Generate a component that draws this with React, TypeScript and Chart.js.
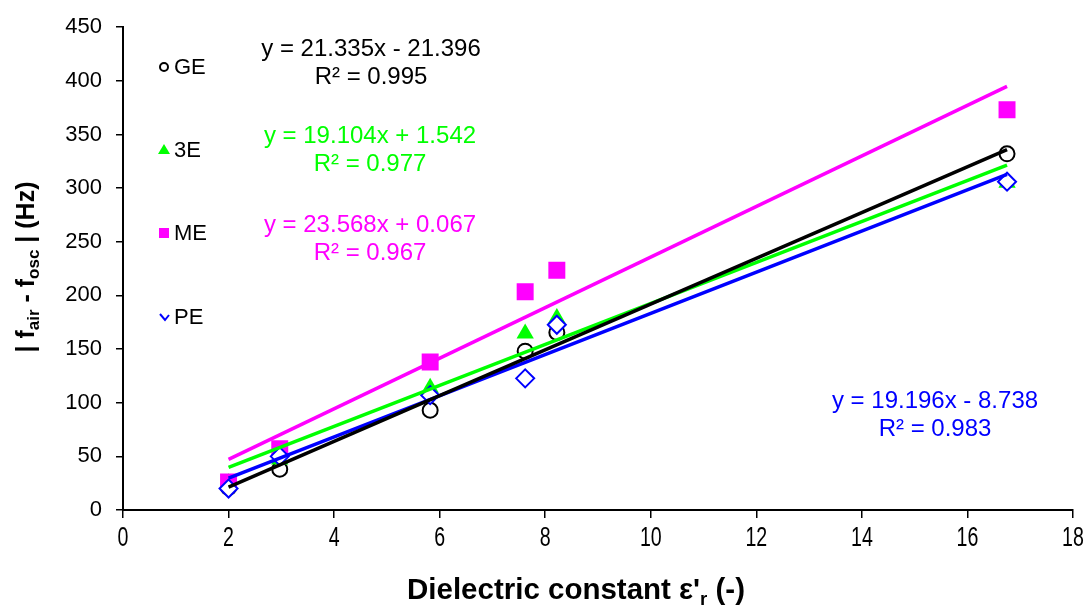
import React, { useEffect, useRef } from "react";
import { Chart, registerables } from "chart.js";

Chart.register(...registerables);

// ---- data ----
const xValues = [2, 2.97, 5.82, 7.62, 8.22, 16.75];
const seriesNames = ["GE", "3E", "ME", "PE"];
const geValues = [21, 38, 93, 148, 165.5, 332];
const e3Values = [25, 47, 114, 164.5, 179, 305];
const meValues = [26, 57, 138, 203.5, 223.5, 373];
const peValues = [20, 50, 107, 122.7, 172.7, 306];
const slopes = [21.335, 19.104, 23.568, 19.196];
const intercepts = [-21.396, 1.542, 0.067, -8.738];
const equationTexts = [
  "y = 21.335x - 21.396",
  "y = 19.104x + 1.542",
  "y = 23.568x + 0.067",
  "y = 19.196x - 8.738",
];
const r2Texts = ["R² = 0.995", "R² = 0.977", "R² = 0.967", "R² = 0.983"];
const xTickValues = [0, 2, 4, 6, 8, 10, 12, 14, 16, 18];
const yTickValues = [0, 50, 100, 150, 200, 250, 300, 350, 400, 450];

// ---- styles / layout ----
const colors = ["#000000", "#00FF00", "#FF00FF", "#0000FF"];
const FONT = "'Liberation Sans', Arial, sans-serif";
const eqPositions = [
  { x: 371, y: 49 },
  { x: 370, y: 136 },
  { x: 370, y: 225 },
  { x: 935, y: 401 },
];
const legendRows = [67, 150, 233, 317];

function trendPoints(i: number) {
  const x0 = xValues[0];
  const x1 = xValues[xValues.length - 1];
  return [
    { x: x0, y: slopes[i] * x0 + intercepts[i] },
    { x: x1, y: slopes[i] * x1 + intercepts[i] },
  ];
}

function pts(vals: number[]) {
  return xValues.map((x, i) => ({ x, y: vals[i] }));
}

const overlayPlugin = {
  id: "overlay",
  afterDraw(chart: any) {
    const ctx: CanvasRenderingContext2D = chart.ctx;
    ctx.save();
    // equations
    ctx.textAlign = "center";
    ctx.textBaseline = "middle";
    ctx.font = `24px ${FONT}`;
    eqPositions.forEach((p, i) => {
      ctx.fillStyle = colors[i];
      ctx.fillText(equationTexts[i], p.x, p.y);
      ctx.fillText(r2Texts[i], p.x, p.y + 28);
    });
    // legend
    ctx.textAlign = "left";
    ctx.font = `22px ${FONT}`;
    legendRows.forEach((y, i) => {
      const mx = 164;
      ctx.lineWidth = 2;
      if (i === 0) {
        ctx.strokeStyle = "#000";
        ctx.beginPath();
        ctx.arc(mx, y, 4, 0, Math.PI * 2);
        ctx.stroke();
      } else if (i === 1) {
        ctx.fillStyle = colors[1];
        ctx.beginPath();
        ctx.moveTo(mx, y - 6);
        ctx.lineTo(mx + 6, y + 4);
        ctx.lineTo(mx - 6, y + 4);
        ctx.closePath();
        ctx.fill();
      } else if (i === 2) {
        ctx.fillStyle = colors[2];
        ctx.fillRect(mx - 5, y - 5, 10, 10);
      } else {
        ctx.strokeStyle = colors[3];
        ctx.beginPath();
        ctx.moveTo(mx - 4, y - 3);
        ctx.lineTo(mx + 1, y + 3);
        ctx.lineTo(mx + 5, y - 2);
        ctx.stroke();
      }
      ctx.fillStyle = "#000";
      ctx.fillText(seriesNames[i], 174, y + 1);
    });
    // x tick labels (tall, narrow)
    const xs = chart.scales.x;
    ctx.font = `28px ${FONT}`;
    ctx.fillStyle = "#000";
    ctx.textAlign = "center";
    xTickValues.forEach((v) => {
      const px = xs.getPixelForValue(v);
      ctx.save();
      ctx.translate(px, 538);
      ctx.scale(0.7, 1);
      ctx.fillText(String(v), 0, 0);
      ctx.restore();
    });
    // x title
    ctx.save();
    ctx.font = `bold 30px ${FONT}`;
    const tMain = "Dielectric constant ε'";
    const tSub = "r";
    const tEnd = " (-)";
    const wMain = ctx.measureText(tMain).width;
    const wEnd = ctx.measureText(tEnd).width;
    ctx.font = `bold 19px ${FONT}`;
    const wSub = ctx.measureText(tSub).width;
    const total = wMain + wSub + wEnd;
    const sx = 338 / total;
    ctx.translate(576, 591);
    ctx.scale(sx, 1);
    ctx.textAlign = "left";
    let cx = -total / 2;
    ctx.font = `bold 30px ${FONT}`;
    ctx.fillText(tMain, cx, 0);
    cx += wMain;
    ctx.font = `bold 19px ${FONT}`;
    ctx.fillText(tSub, cx, 9);
    cx += wSub;
    ctx.font = `bold 30px ${FONT}`;
    ctx.fillText(tEnd, cx, 0);
    ctx.restore();
    // y title
    ctx.save();
    ctx.translate(27, 267);
    ctx.rotate(-Math.PI / 2);
    const parts: [string, boolean][] = [
      ["| f", false],
      ["air", true],
      [" - f", false],
      ["osc", true],
      [" | (Hz)", false],
    ];
    let tw = 0;
    parts.forEach(([t, sub]) => {
      ctx.font = sub ? `bold 17px ${FONT}` : `bold 25px ${FONT}`;
      tw += ctx.measureText(t).width;
    });
    let px = -tw / 2;
    ctx.textAlign = "left";
    ctx.fillStyle = "#000";
    parts.forEach(([t, sub]) => {
      ctx.font = sub ? `bold 17px ${FONT}` : `bold 25px ${FONT}`;
      ctx.fillText(t, px, sub ? 7 : 0);
      px += ctx.measureText(t).width;
    });
    ctx.restore();
    ctx.restore();
  },
};

export default function App() {
  const ref = useRef<HTMLCanvasElement | null>(null);
  useEffect(() => {
    if (!ref.current) return;
    Chart.defaults.font.family = FONT;
    const scatter = [geValues, e3Values, meValues, peValues];
    const styles = ["circle", "triangle", "rect", "rectRot"];
    const radii = [7.5, 10, 12, 9];
    const datasets: any[] = [];
    scatter.forEach((vals, i) => {
      datasets.push({
        type: "scatter",
        label: seriesNames[i],
        data: pts(vals),
        pointStyle: styles[i],
        pointRadius: radii[i],
        pointBackgroundColor: i === 0 || i === 3 ? "#FFFFFF" : colors[i],
        pointBorderColor: colors[i],
        pointBorderWidth: i === 0 || i === 3 ? 2 : 0,
        showLine: false,
        order: 4 - i + 1,
      });
    });
    [0, 3, 1, 2].forEach((i) => {
      datasets.push({
        type: "line",
        label: seriesNames[i] + " fit",
        data: trendPoints(i),
        borderColor: colors[i],
        borderWidth: 3.5,
        pointRadius: 0,
        fill: false,
        order: 0,
      });
    });
    const chart = new Chart(ref.current, {
      type: "scatter",
      data: { datasets },
      options: {
        animation: false,
        responsive: false,
        events: [],
        layout: { padding: { left: 0, right: 19, top: 15, bottom: 0 } },
        plugins: { legend: { display: false }, tooltip: { enabled: false } },
        scales: {
          x: {
            type: "linear",
            min: 0,
            max: 18,
            afterFit: (s: any) => {
              s.height = 104;
            },
            afterBuildTicks: (s: any) => {
              s.ticks = xTickValues.map((v) => ({ value: v }));
            },
            ticks: { color: "rgba(0,0,0,0)", font: { size: 20 } },
            grid: {
              drawOnChartArea: false,
              drawTicks: true,
              tickLength: 8,
              color: "#000",
              lineWidth: 1.5,
            },
            border: { color: "#000", width: 2 },
          },
          y: {
            type: "linear",
            min: 0,
            max: 450,
            afterFit: (s: any) => {
              s.width = 123;
            },
            afterBuildTicks: (s: any) => {
              s.ticks = yTickValues.map((v) => ({ value: v }));
            },
            ticks: { color: "#000", font: { size: 22 }, padding: 14 },
            grid: {
              drawOnChartArea: false,
              drawTicks: true,
              tickLength: 7,
              color: "#000",
              lineWidth: 1.5,
            },
            border: { color: "#000", width: 2 },
          },
        },
      },
      plugins: [overlayPlugin],
    });
    return () => chart.destroy();
  }, []);
  return (
    <div style={{ position: "absolute", left: 0, top: 0, width: 1092, height: 614, background: "#fff" }}>
      <canvas ref={ref} width={1092} height={614} style={{ width: 1092, height: 614 }} />
    </div>
  );
}
